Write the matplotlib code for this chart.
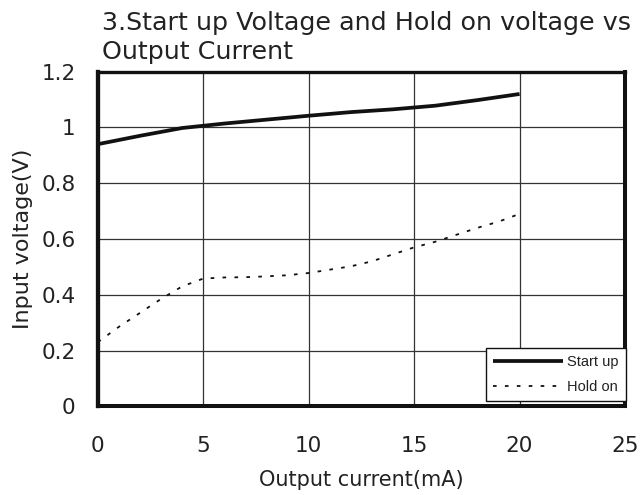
import matplotlib
matplotlib.use("Agg")
import matplotlib.pyplot as plt
from matplotlib import font_manager

# Data
current_start = [0, 2, 4, 5, 6, 8, 10, 12, 14, 16, 18, 20]
start_up = [0.94, 0.97, 0.998, 1.006, 1.014, 1.028, 1.042, 1.055, 1.065, 1.078, 1.098, 1.12]

current_hold = [0, 1, 2, 3, 4, 5, 6, 7, 8, 9, 10, 11, 12, 13, 14, 15, 16, 17, 18, 19, 20]
hold_on = [0.23, 0.285, 0.335, 0.385, 0.43, 0.458, 0.462, 0.463, 0.466, 0.47, 0.478, 0.49,
           0.502, 0.52, 0.545, 0.57, 0.59, 0.615, 0.64, 0.662, 0.69]

x_ticks = [0, 5, 10, 15, 20, 25]
y_ticks = [0, 0.2, 0.4, 0.6, 0.8, 1.0, 1.2]
y_tick_labels = ["0", "0.2", "0.4", "0.6", "0.8", "1", "1.2"]

title = "3.Start up Voltage and Hold on voltage vs\nOutput Current"
x_label = "Output current(mA)"
y_label = "Input voltage(V)"
series_labels = ["Start up", "Hold on"]

plt.rcParams['font.family'] = ['DejaVu Sans']

names = {f.name for f in font_manager.fontManager.ttflist}
if 'Liberation Sans Narrow' in names:
    leg_family, leg_size, leg_hl = ['Liberation Sans Narrow', 'DejaVu Sans'], 12.5, 4.3
else:
    leg_family, leg_size, leg_hl = ['Liberation Sans', 'DejaVu Sans'], 10.5, 4.8

fig = plt.figure(figsize=(6.43, 4.95), dpi=100)
ax = fig.add_axes([0.1521, 0.1792, 0.8199, 0.6760])

ax.plot(current_start, start_up, color='#111111', lw=2.7, solid_capstyle='butt',
        label=series_labels[0], zorder=3)
ax.plot(current_hold, hold_on, color='#111111', lw=1.3, linestyle=(0, (2.0, 4.6)),
        label=series_labels[1], zorder=3)

ax.set_xlim(0, 25)
ax.set_ylim(0, 1.2)
ax.set_xticks(x_ticks)
ax.set_yticks(y_ticks)
ax.set_yticklabels(y_tick_labels)
ax.tick_params(axis='both', length=0, labelsize=15.5, colors='#222222')
ax.tick_params(axis='x', pad=21.5)
ax.tick_params(axis='y', pad=16)
ax.grid(True, color='#333333', lw=0.9)
ax.set_axisbelow(True)

ax.spines['left'].set_linewidth(3.1)
ax.spines['bottom'].set_linewidth(2.9)
ax.spines['right'].set_linewidth(2.9)
ax.spines['top'].set_linewidth(2.4)
for s in ax.spines.values():
    s.set_color('#111111')

ax.set_xlabel(x_label, fontsize=15, color='#222222', labelpad=10)
ax.set_ylabel(y_label, fontsize=16, color='#222222', labelpad=6)

fig.text(0.1579, 0.9768, title, fontsize=18.3, color='#222222', ha='left', va='top',
         linespacing=1.22)

leg = ax.legend(loc='lower right', bbox_to_anchor=(1.002, 0.015),
                prop={'family': leg_family, 'size': leg_size},
                handlelength=leg_hl, frameon=True, fancybox=False, framealpha=1.0,
                borderaxespad=0.0, borderpad=0.5, labelspacing=0.72, handletextpad=0.3,
                edgecolor='#111111')
leg.get_frame().set_linewidth(1.0)
for t in leg.get_texts():
    t.set_color('#222222')

fig.savefig("out.png", dpi=100)
